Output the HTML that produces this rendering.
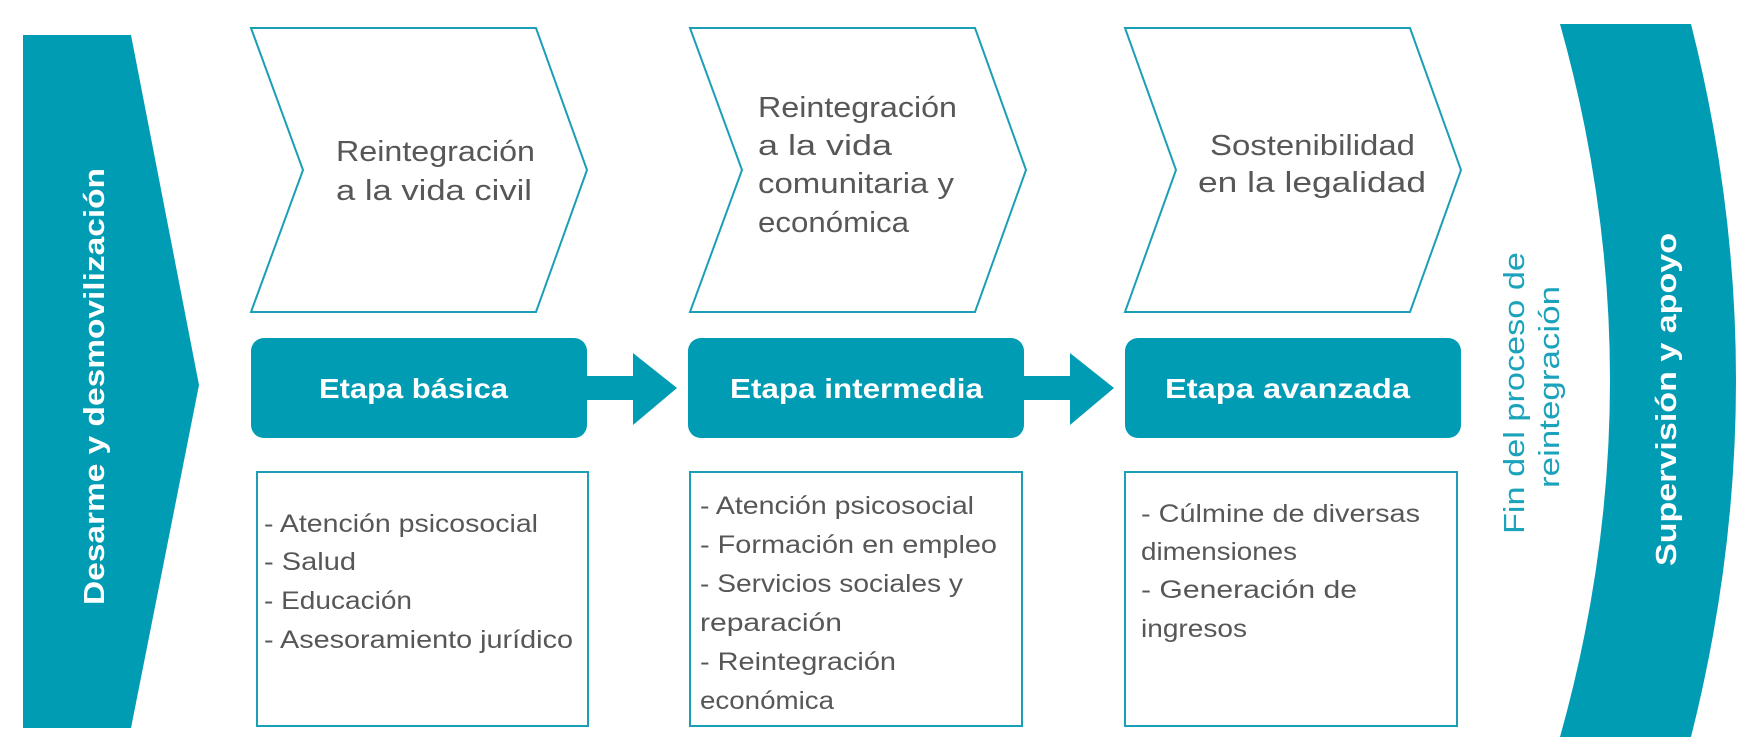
<!DOCTYPE html>
<html><head><meta charset="utf-8"><style>
html,body{margin:0;padding:0;background:#fff;width:1757px;height:753px;overflow:hidden}
svg{display:block}
.g{font-family:"Liberation Sans",sans-serif;fill:#575757;font-size:29px}
.l{font-family:"Liberation Sans",sans-serif;fill:#575757;font-size:25px}
.w{font-family:"Liberation Sans",sans-serif;fill:#fff;font-weight:bold;font-size:28px}
</style></head><body>
<svg width="1757" height="753" viewBox="0 0 1757 753" xmlns="http://www.w3.org/2000/svg">
<!-- left banner -->
<polygon points="23,35 131,35 199,385 131,728 23,728" fill="#009cb4"/>
<text class="w" transform="translate(104,605) rotate(-90)" textLength="437" lengthAdjust="spacingAndGlyphs" style="font-size:29px">Desarme y desmovilización</text>

<!-- chevrons -->
<g fill="#fff" stroke="#1a9fb6" stroke-width="2">
<polygon points="251,28 536,28 587,170 536,312 251,312 303,170"/>
<polygon points="690,28 975,28 1026,170 975,312 690,312 742,170"/>
<polygon points="1125,28 1410,28 1461,170 1410,312 1125,312 1176,170"/>
</g>
<text class="g" x="336" y="161" textLength="199" lengthAdjust="spacingAndGlyphs">Reintegración</text>
<text class="g" x="336" y="200" textLength="196" lengthAdjust="spacingAndGlyphs">a la vida civil</text>
<text class="g" x="758" y="117" textLength="199" lengthAdjust="spacingAndGlyphs">Reintegración</text>
<text class="g" x="758" y="155" textLength="134" lengthAdjust="spacingAndGlyphs">a la vida</text>
<text class="g" x="758" y="193" textLength="196" lengthAdjust="spacingAndGlyphs">comunitaria y</text>
<text class="g" x="758" y="232" textLength="151" lengthAdjust="spacingAndGlyphs">económica</text>
<text class="g" x="1210" y="155" textLength="205" lengthAdjust="spacingAndGlyphs">Sostenibilidad</text>
<text class="g" x="1198" y="192" textLength="228" lengthAdjust="spacingAndGlyphs">en la legalidad</text>

<!-- stage boxes & arrows -->
<g fill="#009cb4">
<rect x="251" y="338" width="336" height="100" rx="13"/>
<rect x="688" y="338" width="336" height="100" rx="13"/>
<rect x="1125" y="338" width="336" height="100" rx="13"/>
<rect x="586" y="376" width="50" height="24"/>
<polygon points="633,353 677,388 633,425"/>
<rect x="1023" y="376" width="50" height="24"/>
<polygon points="1070,353 1114,388 1070,425"/>
</g>
<text class="w" x="319" y="398" textLength="189" lengthAdjust="spacingAndGlyphs">Etapa básica</text>
<text class="w" x="730" y="398" textLength="253" lengthAdjust="spacingAndGlyphs">Etapa intermedia</text>
<text class="w" x="1165" y="398" textLength="245" lengthAdjust="spacingAndGlyphs">Etapa avanzada</text>

<!-- bottom boxes -->
<g fill="#fff" stroke="#1a9fb6" stroke-width="2">
<rect x="257" y="472" width="331" height="254"/>
<rect x="690" y="472" width="332" height="254"/>
<rect x="1125" y="472" width="332" height="254"/>
</g>
<text class="l" x="264" y="532" textLength="274" lengthAdjust="spacingAndGlyphs">- Atención psicosocial</text>
<text class="l" x="264" y="570" textLength="92" lengthAdjust="spacingAndGlyphs">- Salud</text>
<text class="l" x="264" y="609" textLength="148" lengthAdjust="spacingAndGlyphs">- Educación</text>
<text class="l" x="264" y="648" textLength="309" lengthAdjust="spacingAndGlyphs">- Asesoramiento jurídico</text>

<text class="l" x="700" y="514" textLength="274" lengthAdjust="spacingAndGlyphs">- Atención psicosocial</text>
<text class="l" x="700" y="553" textLength="297" lengthAdjust="spacingAndGlyphs">- Formación en empleo</text>
<text class="l" x="700" y="592" textLength="263" lengthAdjust="spacingAndGlyphs">- Servicios sociales y</text>
<text class="l" x="700" y="631" textLength="142" lengthAdjust="spacingAndGlyphs">reparación</text>
<text class="l" x="700" y="670" textLength="196" lengthAdjust="spacingAndGlyphs">- Reintegración</text>
<text class="l" x="700" y="709" textLength="134" lengthAdjust="spacingAndGlyphs">económica</text>

<text class="l" x="1141" y="522" textLength="279" lengthAdjust="spacingAndGlyphs">- Cúlmine de diversas</text>
<text class="l" x="1141" y="560" textLength="156" lengthAdjust="spacingAndGlyphs">dimensiones</text>
<text class="l" x="1141" y="598" textLength="216" lengthAdjust="spacingAndGlyphs">- Generación de</text>
<text class="l" x="1141" y="637" textLength="106" lengthAdjust="spacingAndGlyphs">ingresos</text>

<!-- fin text -->
<text transform="translate(1524,534) rotate(-90)" textLength="282" lengthAdjust="spacingAndGlyphs" style="font-family:'Liberation Sans',sans-serif;font-size:29px;fill:#1aa3ba">Fin del proceso de</text>
<text transform="translate(1559,488) rotate(-90)" textLength="202" lengthAdjust="spacingAndGlyphs" style="font-family:'Liberation Sans',sans-serif;font-size:29px;fill:#1aa3ba">reintegración</text>

<!-- right arc -->
<path d="M1560,24 L1691,24 Q1781,380 1691,737 L1560,737 Q1660,380 1560,24 Z" fill="#009cb4"/>
<text class="w" transform="translate(1676,566) rotate(-90)" textLength="333" lengthAdjust="spacingAndGlyphs" style="font-size:29px">Supervisión y apoyo</text>
</svg>
</body></html>
